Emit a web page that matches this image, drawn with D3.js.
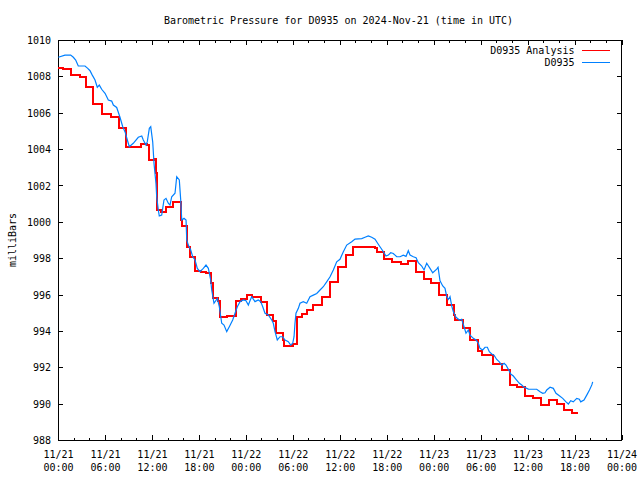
<!DOCTYPE html>
<html>
<head>
<meta charset="utf-8">
<script src="https://cdn.jsdelivr.net/npm/d3@7"></script>
<style>
  html, body { margin: 0; padding: 0; background: #fff; }
  svg { display: block; }
  text { font-family: "DejaVu Sans Mono", "Liberation Mono", monospace; font-size: 10px; fill: #000; }
</style>
</head>
<body>
<svg id="chart" width="640" height="480"></svg>
<script>
// ---- Data (hours since 2024-11-21 00:00 UTC, pressure in mb) ----
const titleText = "Barometric Pressure for D0935 on 2024-Nov-21 (time in UTC)";
const yLabel = "milliBars";
const seriesNames = ["D0935 Analysis", "D0935"];
const seriesColors = ["#ff0000", "#0080ff"];
const yTicks = [988, 990, 992, 994, 996, 998, 1000, 1002, 1004, 1006, 1008, 1010];

// Analysis (step series): change times and levels
const analysisHours = [0, 0.64, 1.62, 2.81, 3.54, 4.51, 5.66, 6.73, 7.76, 8.69, 10.57, 11.41, 11.67, 12.23, 12.52, 12.69,
  13.16, 13.80, 14.73, 15.68, 15.81, 16.48, 16.83, 17.54, 18.23, 18.91, 19.51, 19.77, 20.44, 20.70, 21.59, 22.74,
  23.38, 24.11, 24.75, 25.90, 26.74, 27.51, 27.86, 28.71, 28.88, 29.99, 30.58, 31.14, 31.78, 32.62, 33.70, 34.76,
  35.78, 36.80, 37.73, 40.51, 40.80, 41.66, 42.64, 43.79, 44.76, 45.71, 46.77, 47.66, 48.72, 49.67, 50.60, 50.77,
  51.79, 52.64, 53.63, 54.18, 55.62, 56.70, 57.76, 58.61, 59.67, 60.73, 61.68, 62.78, 63.72, 64.66, 65.72, 66.48];
const analysisValues = [1008.44, 1008.39, 1008.07, 1007.98, 1007.43, 1006.48, 1005.93, 1005.75, 1005.14, 1004.10, 1004.28, 1004.22, 1003.40, 1003.45, 1002.67, 1000.65,
  1000.56, 1000.83, 1001.10, 1000.10, 999.77, 998.63, 998.05, 997.31, 997.26, 997.17, 996.62, 995.79, 995.66, 994.78, 994.84, 995.66,
  995.74, 996.00, 995.88, 995.57, 994.87, 994.56, 993.90, 993.50, 993.17, 993.28, 994.78, 994.93, 995.15, 995.42, 995.88, 996.70,
  997.53, 998.17, 998.59, 998.54, 998.36, 997.94, 997.80, 997.68, 997.84, 997.26, 996.84, 996.65, 996.00, 995.42, 994.90, 994.60,
  994.14, 993.50, 992.90, 992.67, 992.18, 991.85, 991.02, 990.93, 990.44, 990.33, 989.92, 990.20, 989.96, 989.65, 989.47, 989.47];

// Observations
const obsHours = [0.04, 0.89, 1.62, 1.96, 2.26, 2.59, 3.45, 3.80, 4.09, 4.38, 4.73, 5.02, 5.28, 5.58, 6.01, 6.43, 6.86, 7.07, 7.50, 7.92,
  8.27, 8.56, 8.86, 9.11, 9.62, 10.26, 10.70, 10.90, 11.24, 11.41, 11.67, 11.85, 12.10, 12.27, 12.52, 12.61, 12.82, 12.94, 13.25, 13.54,
  13.80, 14.09, 14.31, 14.53, 14.95, 15.17, 15.50, 15.68, 15.81, 16.10, 16.36, 16.45, 16.65, 16.96, 17.21, 17.51, 17.80, 18.14, 18.57, 18.91,
  19.21, 19.51, 19.64, 19.93, 20.36, 20.61, 20.92, 21.21, 21.56, 21.89, 22.32, 22.62, 22.91, 23.26, 23.68, 24.02, 24.32, 24.53, 24.75, 25.17,
  25.59, 25.90, 26.16, 26.45, 26.87, 27.31, 27.51, 27.73, 28.02, 28.37, 28.71, 29.01, 29.43, 29.73, 29.99, 30.16, 30.28, 30.41, 30.71, 30.92,
  31.34, 31.78, 32.20, 32.62, 33.06, 33.48, 33.90, 34.33, 34.76, 35.18, 35.61, 36.03, 36.46, 36.89, 37.53, 37.95, 38.81, 39.23, 39.65, 40.08,
  40.51, 40.80, 41.14, 41.49, 41.91, 42.21, 42.51, 42.84, 43.28, 43.70, 44.12, 44.47, 44.76, 44.98, 45.40, 45.75, 46.04, 46.47, 46.77, 47.11,
  47.53, 47.88, 48.39, 48.56, 48.81, 49.16, 49.45, 49.67, 49.87, 50.09, 50.31, 50.51, 50.86, 51.28, 51.58, 51.88, 52.13, 52.43, 52.64, 53.07,
  53.41, 53.71, 53.92, 54.27, 54.56, 54.86, 55.11, 55.42, 55.71, 56.06, 56.39, 56.70, 57.00, 57.25, 57.54, 57.85, 58.18, 58.52, 58.95, 59.25,
  59.46, 60.10, 61.17, 61.59, 61.94, 62.23, 62.45, 62.87, 63.29, 63.63, 64.06, 64.49, 64.91, 65.21, 65.51, 65.84, 66.28, 66.61, 66.79, 67.21,
  67.56, 67.91, 68.21, 68.32];
const obsValues = [1009.05, 1009.17, 1009.17, 1009.05, 1008.90, 1008.57, 1008.57, 1008.44, 1008.31, 1008.07, 1007.80, 1007.40, 1007.52, 1007.29, 1007.07, 1006.70, 1006.64, 1006.42, 1006.29, 1005.75,
  1005.23, 1004.96, 1004.50, 1004.13, 1004.32, 1004.65, 1004.72, 1004.50, 1004.22, 1004.41, 1005.14, 1005.23, 1004.40, 1003.20, 1002.10, 1001.38, 1000.65, 1000.32, 1000.37, 1001.20,
  1001.29, 1001.02, 1000.92, 1001.38, 1001.57, 1002.48, 1002.30, 1001.20, 1000.10, 1000.20, 1000.10, 999.00, 998.72, 998.45, 998.08, 997.90, 997.44, 997.26, 997.44, 997.62,
  997.44, 996.80, 996.25, 995.52, 995.79, 995.33, 994.42, 994.32, 993.96, 994.23, 994.60, 994.97, 995.33, 995.61, 995.70, 995.66, 995.42, 995.66, 995.88, 995.61,
  995.70, 995.61, 995.33, 994.97, 994.88, 994.60, 994.42, 993.96, 993.50, 993.68, 993.68, 993.50, 993.41, 993.22, 993.32, 993.68, 994.42, 994.97, 995.24, 995.52,
  995.61, 995.52, 995.88, 995.97, 996.06, 996.25, 996.43, 996.70, 996.98, 997.35, 997.80, 997.94, 998.36, 998.72, 998.90, 999.05, 999.08, 999.15, 999.22, 999.15,
  999.04, 998.85, 998.63, 998.41, 998.12, 998.17, 998.30, 998.26, 998.08, 998.08, 998.17, 998.10, 998.41, 998.17, 998.08, 998.03, 997.75, 997.57, 997.35, 997.72,
  997.44, 997.20, 997.40, 997.50, 996.75, 996.47, 996.34, 995.88, 995.73, 995.88, 995.37, 995.06, 994.75, 994.60, 994.64, 994.23, 993.87, 994.05, 993.77, 993.59,
  993.50, 993.32, 993.04, 992.95, 993.10, 993.10, 992.86, 992.73, 992.67, 992.43, 992.30, 992.12, 992.22, 992.12, 991.89, 991.63, 991.52, 991.34, 991.12, 991.03,
  990.93, 990.80, 990.79, 990.65, 990.57, 990.60, 990.75, 990.90, 990.84, 990.57, 990.43, 990.29, 990.10, 989.98, 990.16, 990.10, 990.29, 990.24, 990.10, 990.20,
  990.47, 990.75, 991.03, 991.20];

// ---- Layout ----
const W = 640, H = 480;
const margin = { left: 58, top: 40, right: 18.5, bottom: 40 };
const iw = W - margin.left - margin.right;
const ih = H - margin.top - margin.bottom;

const t0 = Date.UTC(2024, 10, 21, 0, 0);
const t1 = Date.UTC(2024, 10, 24, 0, 0);
const toDate = h => new Date(t0 + h * 3600e3);

const svg = d3.select("#chart");
const g = svg.append("g").attr("transform", `translate(${margin.left},${margin.top})`);

const x = d3.scaleUtc().domain([new Date(t0), new Date(t1)]).range([0, iw]);
const y = d3.scaleLinear().domain([988, 1010]).range([ih, 0]);

const majorX = d3.utcHour.every(6).range(new Date(t0), new Date(t1 + 1));
const minorX = d3.utcHour.every(2).range(new Date(t0), new Date(t1 + 1)).filter(d => d.getUTCHours() % 6 !== 0);

const fmtDate = d3.utcFormat("%m/%d");
const fmtTime = d3.utcFormat("%H:%M");

// Bottom axis (major, inward ticks)
const bottom = g.append("g").attr("transform", `translate(0,${ih})`)
  .call(d3.axisBottom(x).tickValues(majorX).tickSize(-5).tickPadding(8).tickSizeOuter(0).tickFormat(""));
bottom.selectAll(".tick text").remove();
bottom.selectAll(".tick").append("text")
  .attr("text-anchor", "middle")
  .each(function(d) {
    const t = d3.select(this);
    t.append("tspan").attr("x", 0).attr("y", 17.5).text(fmtDate(d));
    t.append("tspan").attr("x", 0).attr("y", 31).text(fmtTime(d));
  });
g.append("g").attr("transform", `translate(0,${ih})`)
  .call(d3.axisBottom(x).tickValues(minorX).tickSize(-2.5).tickSizeOuter(0).tickFormat(""));

// Top axis (mirror)
g.append("g").call(d3.axisTop(x).tickValues(majorX).tickSize(-5).tickSizeOuter(0).tickFormat(""));
g.append("g").call(d3.axisTop(x).tickValues(minorX).tickSize(-2.5).tickSizeOuter(0).tickFormat(""));

// Left axis
const left = g.append("g")
  .call(d3.axisLeft(y).tickValues(yTicks).tickSize(-5).tickPadding(7).tickSizeOuter(0).tickFormat(d3.format("d")));
left.selectAll(".tick text").attr("dy", "0.36em");

// Right axis (mirror)
g.append("g").attr("transform", `translate(${iw},0)`)
  .call(d3.axisRight(y).tickValues(yTicks).tickSize(-5).tickSizeOuter(0).tickFormat(""));

g.selectAll(".domain").remove();
g.selectAll(".tick line").attr("stroke", "#000").attr("shape-rendering", "crispEdges");
g.selectAll(".tick text").style("font-family", "\"DejaVu Sans Mono\", monospace").style("font-size", "10px").attr("fill", "#000");

// Border
g.append("rect").attr("x", 0).attr("y", 0).attr("width", iw).attr("height", ih)
  .attr("fill", "none").attr("stroke", "#000").attr("stroke-width", 1).attr("shape-rendering", "crispEdges");

// Data
const analysis = analysisHours.map((h, i) => ({ t: toDate(h), v: analysisValues[i] }));
const obs = obsHours.map((h, i) => ({ t: toDate(h), v: obsValues[i] }));

const stepLine = d3.line().x(d => x(d.t)).y(d => y(d.v)).curve(d3.curveStepAfter);
const plainLine = d3.line().x(d => x(d.t)).y(d => y(d.v));

g.append("path").datum(analysis).attr("d", stepLine)
  .attr("fill", "none").attr("stroke", seriesColors[0]).attr("stroke-width", 2).attr("shape-rendering", "crispEdges");
g.append("path").datum(obs).attr("d", plainLine)
  .attr("fill", "none").attr("stroke", seriesColors[1]).attr("stroke-width", 1.2);

// Legend
const legend = g.append("g");
seriesNames.forEach((name, i) => {
  const ly = 10 + i * 12.5;
  legend.append("text").attr("x", 516.5).attr("y", ly).attr("dy", "0.36em")
    .attr("text-anchor", "end").text(name);
  legend.append("line").attr("x1", 524).attr("x2", 552).attr("y1", ly).attr("y2", ly)
    .attr("stroke", seriesColors[i]).attr("stroke-width", 1).attr("shape-rendering", "crispEdges");
});

// Title
svg.append("text").attr("x", 338.5).attr("y", 20).attr("dy", "0.36em")
  .attr("text-anchor", "middle").text(titleText);

// Y label
svg.append("text").attr("transform", "translate(12,240) rotate(-90)")
  .attr("text-anchor", "middle").attr("dy", "0.36em").text(yLabel);
</script>
</body>
</html>
